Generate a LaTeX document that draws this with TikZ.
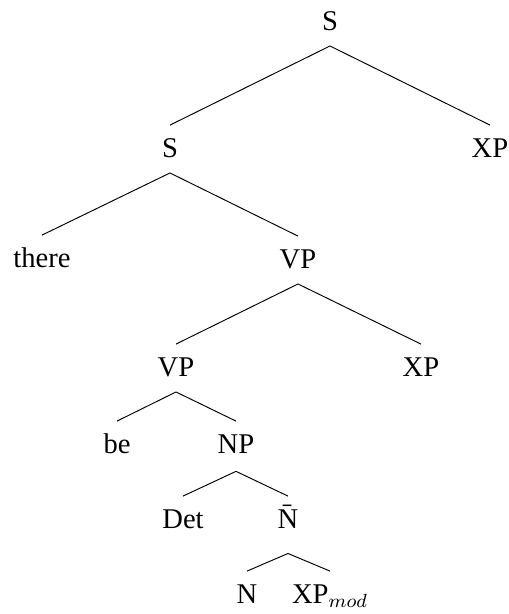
\documentclass[tikz,border=0pt]{standalone}
\usepackage{fontspec}
\setmainfont{Liberation Serif}
\usepackage{tikz}

\begin{document}
\begin{tikzpicture}[x=0.42pt, y=-0.42pt,
  cat/.style={anchor=base, font=\fontsize{12}{14}\selectfont,
              inner sep=3pt, text height=10.2pt, text depth=3.5pt}]
\useasboundingbox (0,0) rectangle (509,614);

% categories, placed on their baselines
\node[cat] (s1)    at (330,30)  {S};
\node[cat] (s2)    at (170,157) {S};
\node[cat] (xp1)   at (490,157) {XP};
\node[cat] (there) at (42,267)  {there};
\node[cat] (vp1)   at (298,268) {VP};
\node[cat] (vp2)   at (176,376) {VP};
\node[cat] (xp2)   at (421,376) {XP};
\node[cat] (be)    at (117,453) {be};
\node[cat, text depth=4.5pt] (np) at (236,453) {NP};
\node[cat] (det)   at (183,528) {Det};
\node[cat, text depth=7.5pt] (nbar) at (288,528) {\=N};
\node[cat] (n)     at (247,603) {N};
\node[cat] (xpmod) at (330,603) {XP$_{mod}$};

% branches
\foreach \mother/\daughter in {s1/s2, s1/xp1, s2/there, s2/vp1, vp1/vp2, vp1/xp2,
                               vp2/be, vp2/np, np/det, np/nbar, nbar/n, nbar/xpmod}
  \draw (\mother.south) -- (\daughter.north);
\end{tikzpicture}
\end{document}
